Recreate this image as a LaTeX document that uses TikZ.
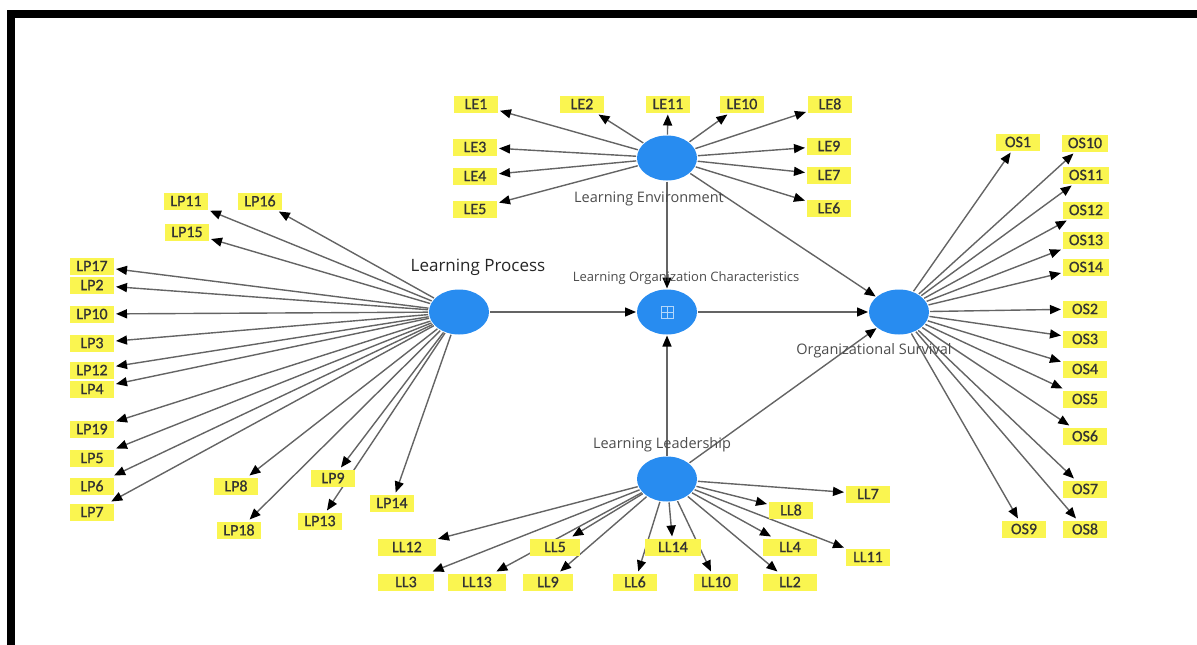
\documentclass[tikz,border=0pt]{standalone}
\usepackage{fontspec}
\setmainfont{Carlito}
\newfontfamily\indfont{Carlito}[FakeBold=0.8]
\newfontfamily\capfont{Open Sans}
\usetikzlibrary{arrows.meta,shapes.geometric}
\pgfdeclarelayer{bg}
\pgfsetlayers{bg,main}
\definecolor{indyellow}{RGB}{250,245,80}
\definecolor{lvblue}{RGB}{40,140,240}
\definecolor{edgegray}{RGB}{100,100,100}
\begin{document}
\begin{tikzpicture}[x=1pt,y=-1pt,
  indbox/.style={fill=indyellow, font=\indfont\fontsize{16}{16}\selectfont, text=black!80, minimum height=17pt, minimum width=44pt, inner xsep=6pt, inner ysep=0pt, outer sep=2pt},
  lvnode/.style={ellipse, fill=lvblue, minimum width=60pt, minimum height=45pt, inner sep=0pt, outer sep=1pt},
  arr/.style={draw=edgegray, line width=1.4pt, -{Triangle[length=11pt,width=9pt,color=black]}},
  captext/.style={font=\capfont\fontsize{14.5}{14.5}\selectfont, text=black!70, inner sep=0pt},
]
\useasboundingbox (0,0) rectangle (1197,645);
\fill[black] (7,10) rectangle (1197,18);
\fill[black] (7,10) rectangle (15,645);

% latent variables
\node[lvnode] (LP) at (459,312) {};
\node[lvnode] (LOC) at (667,312) {};
\node[lvnode] (LE) at (667,158) {};
\node[lvnode] (OS) at (899,312) {};
\node[lvnode] (LL) at (667,479) {};
\draw[white!65!lvblue, line width=1pt] (661,306) rectangle (673,318) (667,306) -- (667,318) (661,312) -- (673,312);

% captions
\node[captext, font=\capfont\fontsize{17}{17}\selectfont, text=black!85] (capLP) at (478,267) {Learning Process};
\node[captext, font=\capfont\fontsize{13}{13}\selectfont] (capLOC) at (686,278) {Learning Organization Characteristics};
\node[captext] (capLE) at (649,199) {Learning Environment};
\node[captext] (capOS) at (874,351) {Organizational Survival};
\node[captext] (capLL) at (662,445) {Learning Leadership};

% LE indicators
\node[indbox] (LE1) at (476,104) {LE1};
\node[indbox] (LE2) at (582,104) {LE2};
\node[indbox] (LE11) at (668,104) {LE11};
\node[indbox] (LE10) at (742,104) {LE10};
\node[indbox] (LE8) at (830,104) {LE8};
\node[indbox] (LE3) at (475,147) {LE3};
\node[indbox] (LE4) at (475,176) {LE4};
\node[indbox] (LE5) at (475,209) {LE5};
\node[indbox] (LE9) at (829,146) {LE9};
\node[indbox] (LE7) at (829,175) {LE7};
\node[indbox] (LE6) at (829,208) {LE6};

% OS indicators
\node[indbox] (OS1) at (1018,142) {OS1};
\node[indbox] (OS10) at (1085,143) {OS10};
\node[indbox] (OS11) at (1086,175) {OS11};
\node[indbox] (OS12) at (1086,210) {OS12};
\node[indbox] (OS13) at (1086,240) {OS13};
\node[indbox] (OS14) at (1086,267) {OS14};
\node[indbox] (OS2) at (1085,309) {OS2};
\node[indbox] (OS3) at (1085,339) {OS3};
\node[indbox] (OS4) at (1085,369) {OS4};
\node[indbox] (OS5) at (1085,399) {OS5};
\node[indbox] (OS6) at (1085,436) {OS6};
\node[indbox] (OS7) at (1085,489) {OS7};
\node[indbox] (OS9) at (1024,529) {OS9};
\node[indbox] (OS8) at (1085,529) {OS8};

% LP indicators
\node[indbox] (LP11) at (186,201) {LP11};
\node[indbox] (LP16) at (260,201) {LP16};
\node[indbox] (LP15) at (187,232) {LP15};
\node[indbox] (LP17) at (92,266) {LP17};
\node[indbox] (LP2) at (92,285) {LP2};
\node[indbox] (LP10) at (92,314) {LP10};
\node[indbox] (LP3) at (92,343) {LP3};
\node[indbox] (LP12) at (92,370) {LP12};
\node[indbox] (LP4) at (92,389) {LP4};
\node[indbox] (LP19) at (92,429) {LP19};
\node[indbox] (LP5) at (92,458) {LP5};
\node[indbox] (LP6) at (92,486) {LP6};
\node[indbox] (LP7) at (92,512) {LP7};
\node[indbox] (LP8) at (236,486) {LP8};
\node[indbox] (LP18) at (239,530) {LP18};
\node[indbox] (LP9) at (333,478) {LP9};
\node[indbox] (LP13) at (320,521) {LP13};
\node[indbox] (LP14) at (392,503) {LP14};

% LL indicators
\node[indbox] (LL7) at (868,494) {LL7};
\node[indbox] (LL8) at (791,510) {LL8};
\node[indbox, minimum width=58pt] (LL12) at (407,547) {LL12};
\node[indbox, minimum width=50pt] (LL5) at (555,547) {LL5};
\node[indbox, minimum width=56pt] (LL14) at (673,547) {LL14};
\node[indbox, minimum width=54pt] (LL4) at (790,547) {LL4};
\node[indbox] (LL11) at (868,557) {LL11};
\node[indbox, minimum width=56pt] (LL3) at (406,582) {LL3};
\node[indbox, minimum width=58pt] (LL13) at (477,582) {LL13};
\node[indbox, minimum width=50pt] (LL9) at (548,582) {LL9};
\node[indbox] (LL6) at (635,582) {LL6};
\node[indbox] (LL10) at (716,582) {LL10};
\node[indbox, minimum width=54pt] (LL2) at (790,582) {LL2};

\begin{pgfonlayer}{bg}
\foreach \t in {LE1,LE2,LE11,LE10,LE8,LE3,LE4,LE5,LE9,LE7,LE6}
  \draw[arr] (LE) -- (\t);
\foreach \t in {OS1,OS10,OS11,OS12,OS13,OS14,OS2,OS3,OS4,OS5,OS6,OS7,OS9,OS8}
  \draw[arr] (OS) -- (\t);
\foreach \t in {LP11,LP16,LP15,LP17,LP2,LP10,LP3,LP12,LP4,LP19,LP5,LP6,LP7,LP8,LP18,LP9,LP13,LP14}
  \draw[arr] (LP) -- (\t);
\foreach \t in {LL7,LL8,LL12,LL5,LL14,LL4,LL11,LL3,LL13,LL9,LL6,LL10,LL2}
  \draw[arr] (LL) -- (\t);
\draw[arr] (LP) -- (LOC);
\draw[arr] (LE) -- (LOC);
\draw[arr] (LL) -- (LOC);
\draw[arr] (LOC) -- (OS);
\draw[arr] (LE) -- (OS);
\draw[arr] (LL) -- (OS);
\end{pgfonlayer}
\end{tikzpicture}
\end{document}
